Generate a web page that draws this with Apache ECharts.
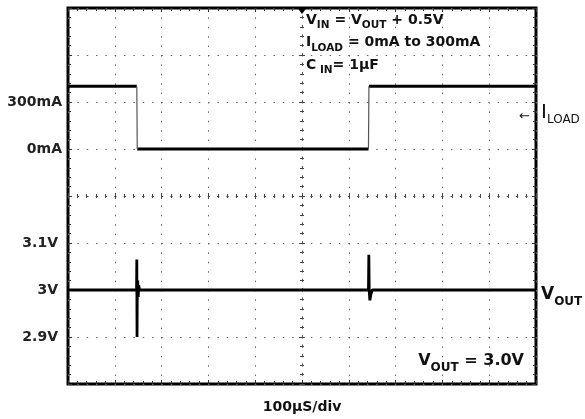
<!DOCTYPE html>
<html>
<head>
<meta charset="utf-8">
<script src="https://cdn.jsdelivr.net/npm/echarts@6/dist/echarts.min.js"></script>
<style>
html,body{margin:0;padding:0;background:#fff;}
#chart{width:585px;height:419px;}
</style>
</head>
<body>
<div id="chart"></div>
<script>
// ---- Data (time in µs, 100 µs/div) ----
const timeAxisName = '100µS/div';

// Load current trace (mA, on the current channel scale)
const iloadTime = [0, 147, 148, 642, 643, 1000];
const iloadMA   = [400, 400, 0, 0, 400, 400];

// Output voltage trace (V)
const voutTime = [0, 100, 146.5, 147, 147.5, 148, 149, 150, 151, 153, 200, 400, 600, 642, 642.8, 643.6, 645, 647, 650, 700, 800, 1000];
const voutV    = [3.0, 3.0, 3.0, 3.065, 2.9, 3.0, 3.02, 2.985, 3.01, 3.0, 3.0, 3.0, 3.0, 3.0, 3.075, 3.0, 2.978, 2.99, 3.0, 3.0, 3.0, 3.0];

// Tick labels
const currentTickValues = [0, 300];
const currentTickLabels = ['0mA', '300mA'];
const voltTickValues = [2.9, 3.0, 3.1];
const voltTickLabels = ['2.9V', '3V', '3.1V'];

const triggerTime = [500];

// ---- build segments: flat (thick) vs edges (thin) ----
function splitSegments(xs, ys) {
  const flat = [], edge = [];
  for (let i = 0; i < xs.length - 1; i++) {
    const target = ys[i] === ys[i + 1] ? flat : edge;
    if (target.length) target.push(['-', '-']);
    target.push([xs[i], ys[i]], [xs[i + 1], ys[i + 1]]);
  }
  return { flat, edge };
}
const iSeg = splitSegments(iloadTime, iloadMA);
const voutData = voutTime.map((t, i) => [t, voutV[i]]);

function pick(values, labels) {
  return function (v) {
    for (let i = 0; i < values.length; i++) {
      if (Math.abs(v - values[i]) < 1e-6) return labels[i];
    }
    return '';
  };
}

const FONT = '"DejaVu Sans", Verdana, sans-serif';
const dotH = [1.5, 7.84];
const dotV = [1.5, 7.9];

const frameTick = { show: true, inside: true, length: 4, lineStyle: { color: '#333', width: 1 } };
const frameMinor = { show: true, splitNumber: 5, length: 3, lineStyle: { color: '#333', width: 1 } };

const chart = echarts.init(document.getElementById('chart'), null, { renderer: 'canvas' });
chart.setOption({
  animation: false,
  backgroundColor: '#fff',
  grid: { left: 68, top: 8, width: 468, height: 376, show: true, borderColor: '#000', borderWidth: 3, backgroundColor: 'transparent' },
  xAxis: [
    { // bottom frame + vertical grid
      type: 'value', min: 0, max: 1000, interval: 100, position: 'bottom',
      axisLine: { show: false, onZero: false }, axisTick: frameTick, minorTick: frameMinor,
      axisLabel: { show: false },
      splitLine: { show: true, lineStyle: { color: '#666', width: 1, type: dotV } },
      name: timeAxisName, nameLocation: 'middle', nameGap: 16,
      nameTextStyle: { fontFamily: FONT, fontWeight: 'bold', fontSize: 14, color: '#111' }
    },
    { // top frame ticks
      type: 'value', min: 0, max: 1000, interval: 100, position: 'top',
      axisLine: { show: false, onZero: false }, axisTick: frameTick, minorTick: frameMinor,
      axisLabel: { show: false }, splitLine: { show: false }
    },
    { // center horizontal line (ticks up)
      type: 'value', min: 0, max: 1000, interval: 100, position: 'bottom',
      axisLine: { show: true, onZero: true, onZeroAxisIndex: 2, lineStyle: { color: '#555', width: 1, type: dotH } },
      axisTick: { show: true, inside: true, length: 3, lineStyle: { color: '#444' } },
      minorTick: { show: true, splitNumber: 5, length: 2, lineStyle: { color: '#444' } },
      axisLabel: { show: false }, splitLine: { show: false }
    },
    { // center horizontal line (ticks down)
      type: 'value', min: 0, max: 1000, interval: 100, position: 'bottom',
      axisLine: { show: false, onZero: true, onZeroAxisIndex: 2 },
      axisTick: { show: true, inside: false, length: 3, lineStyle: { color: '#444' } },
      minorTick: { show: true, splitNumber: 5, length: 2, lineStyle: { color: '#444' } },
      axisLabel: { show: false }, splitLine: { show: false }
    },
    { // hidden centered reference for vertical center line
      type: 'value', min: -500, max: 500, show: false
    }
  ],
  yAxis: [
    { // current channel (left labels + horizontal grid)
      type: 'value', min: -1500, max: 900, interval: 300, position: 'left',
      axisLine: { show: false, onZero: false }, axisTick: frameTick, minorTick: frameMinor,
      axisLabel: { show: true, margin: 6, formatter: pick(currentTickValues, currentTickLabels),
        fontFamily: FONT, fontWeight: 'bold', fontSize: 14, color: '#222' },
      splitLine: { show: true, lineStyle: { color: '#666', width: 1, type: dotH } }
    },
    { // voltage channel
      type: 'value', min: 2.8, max: 3.6, interval: 0.1, position: 'left',
      axisLine: { show: false, onZero: false }, axisTick: { show: false },
      axisLabel: { show: true, margin: 10, formatter: pick(voltTickValues, voltTickLabels),
        fontFamily: FONT, fontWeight: 'bold', fontSize: 14, color: '#222' },
      splitLine: { show: false }
    },
    { // hidden centered reference for horizontal center line
      type: 'value', min: -4, max: 4, show: false
    },
    { // right frame ticks
      type: 'value', min: -1500, max: 900, interval: 300, position: 'right',
      axisLine: { show: false, onZero: false }, axisTick: frameTick, minorTick: frameMinor,
      axisLabel: { show: false }, splitLine: { show: false }
    },
    { // center vertical line (ticks one side)
      type: 'value', min: -1500, max: 900, interval: 300, position: 'left',
      axisLine: { show: true, onZero: true, onZeroAxisIndex: 4, lineStyle: { color: '#555', width: 1, type: dotV } },
      axisTick: { show: true, inside: true, length: 3, lineStyle: { color: '#444' } },
      minorTick: { show: true, splitNumber: 5, length: 2, lineStyle: { color: '#444' } },
      axisLabel: { show: false }, splitLine: { show: false }
    },
    { // center vertical line (ticks other side)
      type: 'value', min: -1500, max: 900, interval: 300, position: 'left',
      axisLine: { show: false, onZero: true, onZeroAxisIndex: 4 },
      axisTick: { show: true, inside: false, length: 3, lineStyle: { color: '#444' } },
      minorTick: { show: true, splitNumber: 5, length: 2, lineStyle: { color: '#444' } },
      axisLabel: { show: false }, splitLine: { show: false }
    }
  ],
  series: [
    {
      name: 'ILOAD', type: 'line', xAxisIndex: 0, yAxisIndex: 0,
      data: iSeg.flat, showSymbol: false, symbol: 'none', connectNulls: false,
      lineStyle: { color: '#000', width: 3 }, z: 5,
      markPoint: {
        symbol: 'triangle', symbolRotate: 180, symbolSize: [9, 6], symbolOffset: [0, 3],
        label: { show: false }, itemStyle: { color: '#000' },
        data: triggerTime.map(t => ({ coord: [t, 900] }))
      }
    },
    {
      name: 'ILOAD edges', type: 'line', xAxisIndex: 0, yAxisIndex: 0,
      data: iSeg.edge, showSymbol: false, symbol: 'none', connectNulls: false,
      lineStyle: { color: '#555', width: 1.2 }, z: 5
    },
    {
      name: 'VOUT', type: 'line', xAxisIndex: 0, yAxisIndex: 1,
      data: voutData, showSymbol: false, symbol: 'none',
      lineStyle: { color: '#000', width: 2.8 }, z: 5
    }
  ],
  graphic: [
    {
      type: 'text', left: 306, top: 13, z: 10,
      style: {
        text: '{m|V}{s|IN}{m| = V}{s|OUT}{m| + 0.5V}\n{m|I}{s|LOAD}{m| = 0mA to 300mA}\n{m|C}{s| IN}{m|= 1µF}',
        rich: {
          m: { fontFamily: FONT, fontWeight: 'bold', fontSize: 14, lineHeight: 22.5, fill: '#111' },
          s: { fontFamily: FONT, fontWeight: 'bold', fontSize: 10.5, lineHeight: 16, verticalAlign: 'bottom', fill: '#111' }
        }
      }
    },
    {
      type: 'text', right: 61, top: 353, z: 10,
      style: {
        text: '{m|V}{s|OUT}{m| = 3.0V}',
        rich: {
          m: { fontFamily: FONT, fontWeight: 'bold', fontSize: 16, lineHeight: 26, fill: '#111' },
          s: { fontFamily: FONT, fontWeight: 'bold', fontSize: 12, lineHeight: 16, verticalAlign: 'bottom', fill: '#111' }
        }
      }
    },
    {
      type: 'text', left: 541, top: 286, z: 10,
      style: {
        text: '{m|V}{s|OUT}',
        rich: {
          m: { fontFamily: FONT, fontWeight: 'bold', fontSize: 17, lineHeight: 26, fill: '#111' },
          s: { fontFamily: FONT, fontWeight: 'bold', fontSize: 12, lineHeight: 13, verticalAlign: 'bottom', fill: '#111' }
        }
      }
    },
    {
      type: 'text', left: 541, top: 103, z: 10,
      style: {
        text: '{m|I}{s|LOAD}',
        rich: {
          m: { fontFamily: FONT, fontWeight: 'normal', fontSize: 20, lineHeight: 26, fill: '#111' },
          s: { fontFamily: FONT, fontWeight: 'normal', fontSize: 12, lineHeight: 19, verticalAlign: 'bottom', fill: '#111' }
        }
      }
    },
    {
      type: 'text', left: 519, top: 110, z: 10,
      style: { text: '←', fontFamily: FONT, fontSize: 13, fill: '#111' }
    }
  ]
});
</script>
</body>
</html>
